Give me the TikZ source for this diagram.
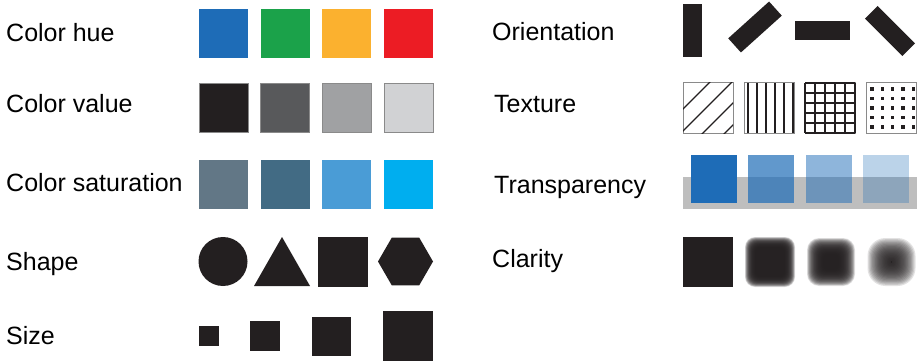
\documentclass[tikz,border=0pt]{standalone}
\usepackage{fontspec}
\setmainfont{Liberation Sans}
\definecolor{ink}{HTML}{231F20}
\definecolor{hueblue}{HTML}{1E6CB7}
\definecolor{huegreen}{HTML}{1BA24A}
\definecolor{hueorange}{HTML}{FBB12F}
\definecolor{huered}{HTML}{EC1C24}
\definecolor{valA}{HTML}{231F20}
\definecolor{valB}{HTML}{58595B}
\definecolor{valC}{HTML}{A0A1A3}
\definecolor{valD}{HTML}{D1D2D4}
\definecolor{satA}{HTML}{627786}
\definecolor{satB}{HTML}{426B84}
\definecolor{satC}{HTML}{4A9CD6}
\definecolor{satD}{HTML}{00AEEF}
\definecolor{rim}{HTML}{8A8A8A}
\definecolor{barfill}{HTML}{BEBEBE}
\tikzset{
  swatch/.style={minimum size=49pt,inner sep=0pt,outer sep=0pt},
  lab/.style={anchor=base west,inner sep=0pt,font=\fontsize{25}{29}\selectfont},
  bar/.style={fill=ink,inner sep=0pt,outer sep=0pt,minimum width=55pt,minimum height=19pt},
  texbox/.style={draw=rim,line width=1pt,fill=white,minimum size=50pt,inner sep=0pt,outer sep=0pt},
}
\begin{document}
\begin{tikzpicture}[x=1pt,y=-1pt]
\useasboundingbox (0,0) rectangle (919,361);
\node[lab] (lhue) at (6,42) {Color hue};
\node[lab] (lvalue) at (6,113) {Color value};
\node[lab] (lsat) at (6,191) {Color saturation};
\node[lab] (lshape) at (6,270) {Shape};
\node[lab] (lsize) at (6,344) {Size};
\node[lab] (lori) at (492,41) {Orientation};
\node[lab] (ltex) at (494,113) {Texture};
\node[lab] (ltra) at (494,193) {Transparency};
\node[lab] (lcla) at (492,267) {Clarity};
\foreach \c/\x [count=\i] in {hueblue/223.5,huegreen/285,hueorange/346.5,huered/408.5}
  \node[swatch,fill=\c] (hue\i) at (\x,33.5) {};
\foreach \c/\x [count=\i] in {valA/223.5,valB/285,valC/346.5,valD/408.5}
  \node[swatch,fill=\c,draw=rim,line width=1pt] (val\i) at (\x,108) {};
\foreach \c/\x [count=\i] in {satA/223.5,satB/285,satC/346.5,satD/408.5}
  \node[swatch,fill=\c] (sat\i) at (\x,184.5) {};
\node[circle,fill=ink,minimum size=49pt,inner sep=0pt] (circ) at (223,261.5) {};
\fill[ink] (254,286) -- (282,237) -- (310,286) -- cycle;
\node[swatch,fill=ink,minimum size=50pt] (quad) at (343,261.5) {};
\fill[ink] (405.5,261.5) +(0:27.5) -- +(60:27.5) -- +(120:27.5) -- +(180:27.5) -- +(240:27.5) -- +(300:27.5) -- cycle;
\foreach \s/\x [count=\i] in {20/209,30/265,39/331.5,50/408}
  \node[swatch,fill=ink,minimum size=\s pt] (size\i) at (\x,336) {};
\node[bar,minimum width=19pt,minimum height=53pt] (ori1) at (692.5,30.5) {};
\node[bar,rotate=42] (ori2) at (755,27) {};
\node[bar] (ori3) at (822.5,30.5) {};
\node[bar,minimum width=53pt,minimum height=18pt,rotate=-45] (ori4) at (890,31) {};
\foreach \x [count=\i] in {708,769,830,891}
  \node[texbox] (tex\i) at (\x,108) {};
\begin{scope}
  \clip (683,83) rectangle (733,133);
  \foreach \s in {26,48,70,92}
    \draw[ink,line width=1.3pt] (663,103+\s) -- (703+\s,63);
\end{scope}
\foreach \x in {748,757,766,775,784,793}
  \draw[ink,line width=1.3pt] (\x,83) -- (\x,133);
\foreach \k in {0,...,5}{
  \draw[ink,line width=1.3pt] (805+10*\k,83) -- (805+10*\k,133);
  \draw[ink,line width=1.3pt] (805,83+10*\k) -- (855,83+10*\k);
}
\foreach \x in {872,882.3,892.6,902.9,913.2}
  \foreach \y in {89,98.5,108,117.5,127}
    \fill[ink] (\x-1.7,\y-1.7) rectangle (\x+1.7,\y+1.7);
\fill[barfill] (683,177) rectangle (917,209);
\foreach \x/\o [count=\i] in {714/1,771/0.7,828.5/0.5,886/0.3}
  \node[minimum width=46pt,minimum height=48pt,inner sep=0pt,fill=hueblue,fill opacity=\o] (tra\i) at (\x,179) {};
\node[swatch,fill=ink,minimum size=50pt] (cla1) at (707.5,262) {};
\foreach \cx/\hs/\bl/\f in {770/20/5/0.4,831/16/8/0.5,891.5/7/17/0.75}
  \foreach \k in {0,...,29}{
    \pgfmathsetmacro\r{max(\hs+\bl-\k*2*\bl/29,0.8)}
    \pgfmathsetmacro\rc{\f*\r}
    \fill[ink,fill opacity=0.13,rounded corners=\rc pt] (\cx-\r,262-\r) rectangle (\cx+\r,262+\r);
  }
\end{tikzpicture}
\end{document}
